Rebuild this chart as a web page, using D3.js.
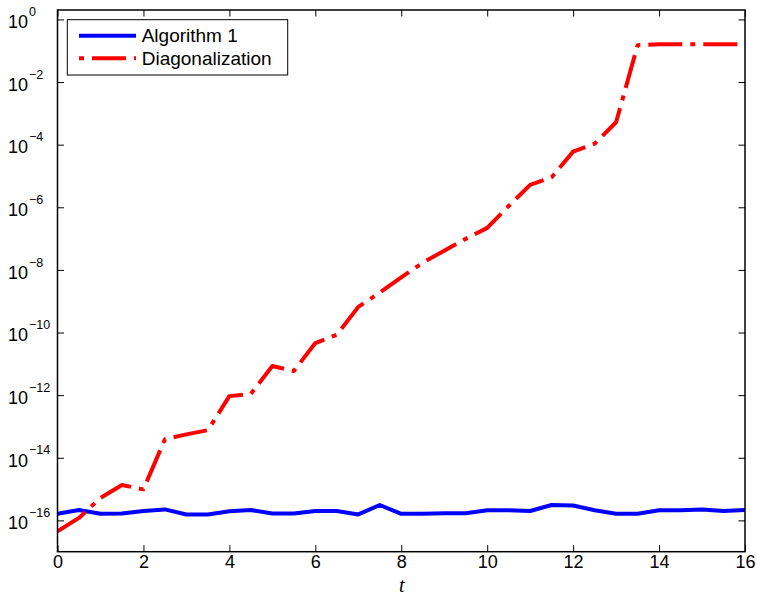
<!DOCTYPE html>
<html>
<head>
<meta charset="utf-8">
<script src="https://cdn.jsdelivr.net/npm/d3@7"></script>
<style>
  body { margin: 0; background: #fff; }
  svg { display: block; }
</style>
</head>
<body>
<svg id="chart" width="757" height="597"></svg>
<script>
// Sample times
const tValues = [0, 0.5, 1, 1.5, 2, 2.5, 3, 3.5, 4, 4.5, 5, 5.5, 6, 6.5, 7, 7.5,
                 8, 8.5, 9, 9.5, 10, 10.5, 11, 11.5, 12, 12.5, 13, 13.5, 14, 14.5, 15, 15.5, 16];

// Error of Algorithm 1 at each time
const algorithm1 = [1.62e-16, 2.14e-16, 1.62e-16, 1.66e-16, 2.0e-16, 2.24e-16, 1.55e-16, 1.55e-16,
                    1.95e-16, 2.14e-16, 1.66e-16, 1.66e-16, 2.0e-16, 2.0e-16, 1.55e-16, 3.1e-16,
                    1.62e-16, 1.62e-16, 1.7e-16, 1.7e-16, 2.1e-16, 2.1e-16, 2.0e-16, 3.1e-16,
                    3.0e-16, 2.1e-16, 1.62e-16, 1.62e-16, 2.1e-16, 2.1e-16, 2.24e-16, 2.0e-16, 2.14e-16];

// Error of the diagonalization approach at each time
const diagonalization = [4.5e-17, 1.2e-16, 5.2e-16, 1.35e-15, 9.8e-16, 3.9e-14, 5.6e-14, 7.6e-14,
                         9.3e-13, 1.1e-12, 8.5e-12, 5.9e-12, 4.6e-11, 8.5e-11, 6.6e-10, 1.9e-9,
                         5.8e-9, 1.7e-8, 4.1e-8, 9.8e-8, 2.2e-7, 1.1e-6, 5.2e-6, 9.1e-6,
                         6.0e-5, 1.07e-4, 5.2e-4, 0.15, 0.16, 0.16, 0.16, 0.16, 0.16];

const xTicks = [0, 2, 4, 6, 8, 10, 12, 14, 16];
const yTickExponents = [0, -2, -4, -6, -8, -10, -12, -14, -16];
const seriesNames = ["Algorithm 1", "Diagonalization"];
const xLabel = "t";

const svg = d3.select("#chart");
const plotLeft = 57.5, plotRight = 745, plotTop = 10, plotBottom = 551.7;

const x = d3.scaleLinear().domain([0, 16]).range([plotLeft, plotRight]);
const y = d3.scaleLog().domain([1e-17, 2]).range([plotBottom, plotTop]);

const tickFont = "'Liberation Sans', Arial, Helvetica, sans-serif";
const tickLen = 6.5;

// clip region for the data lines
svg.append("defs").append("clipPath").attr("id", "plot-clip")
  .append("rect").attr("x", plotLeft).attr("y", plotTop)
  .attr("width", plotRight - plotLeft).attr("height", plotBottom - plotTop);

// data lines
const line = d3.line()
  .x((d, i) => x(tValues[i]))
  .y(d => y(d));

const lines = svg.append("g").attr("clip-path", "url(#plot-clip)");
lines.append("path")
  .datum(algorithm1)
  .attr("d", line)
  .attr("fill", "none")
  .attr("stroke", "#0000ff")
  .attr("stroke-width", 4)
  .attr("stroke-linejoin", "round");

lines.append("path")
  .datum(diagonalization)
  .attr("d", line)
  .attr("fill", "none")
  .attr("stroke", "#ff0000")
  .attr("stroke-width", 4)
  .attr("stroke-dasharray", "34,8,5,8")
  .attr("stroke-linejoin", "round");

// axes with inward ticks on all four sides
function styleAxis(g) {
  g.select(".domain").remove();
  g.selectAll(".tick line").attr("stroke", "#000").attr("stroke-width", 1);
}

const yTickValues = yTickExponents.map(e => Math.pow(10, e));

svg.append("g")
  .attr("transform", `translate(0,${plotBottom})`)
  .call(d3.axisBottom(x).tickValues(xTicks).tickSizeInner(-tickLen).tickSizeOuter(0).tickPadding(3.5))
  .call(styleAxis)
  .call(g => g.selectAll(".tick text")
    .attr("fill", "#000").attr("font-family", tickFont).attr("font-size", 18));

svg.append("g")
  .attr("transform", `translate(0,${plotTop})`)
  .call(d3.axisTop(x).tickValues(xTicks).tickSizeInner(-tickLen).tickSizeOuter(0).tickFormat(""))
  .call(styleAxis);

const yLeft = svg.append("g")
  .attr("transform", `translate(${plotLeft},0)`)
  .call(d3.axisLeft(y).tickValues(yTickValues).tickSizeInner(-tickLen).tickSizeOuter(0).tickFormat(""))
  .call(styleAxis);

svg.append("g")
  .attr("transform", `translate(${plotRight},0)`)
  .call(d3.axisRight(y).tickValues(yTickValues).tickSizeInner(-tickLen).tickSizeOuter(0).tickFormat(""))
  .call(styleAxis);

// power-of-ten labels: base "10" plus raised exponent
yLeft.selectAll(".tick").each(function(d) {
  const g = d3.select(this);
  const e = Math.round(Math.log10(d));
  g.append("text")
    .attr("x", -29.5).attr("y", 8.3)
    .attr("text-anchor", "end")
    .attr("font-family", tickFont).attr("font-size", 18).attr("fill", "#000")
    .text("10");
  g.append("text")
    .attr("x", -28.5).attr("y", -3.8)
    .attr("text-anchor", "start")
    .attr("font-family", tickFont).attr("font-size", 12.5).attr("fill", "#000")
    .text(e < 0 ? "\u2212" + Math.abs(e) : String(e));
});

// frame
svg.append("rect")
  .attr("x", plotLeft).attr("y", plotTop)
  .attr("width", plotRight - plotLeft).attr("height", plotBottom - plotTop)
  .attr("fill", "none").attr("stroke", "#000").attr("stroke-width", 1.5);

// x label
svg.append("text")
  .attr("x", (plotLeft + plotRight) / 2 + 0.5).attr("y", 592)
  .attr("text-anchor", "middle")
  .attr("font-family", "'Liberation Serif', 'Times New Roman', serif")
  .attr("font-style", "italic").attr("font-size", 20)
  .text(xLabel);

// legend
const legend = svg.append("g");
legend.append("rect")
  .attr("x", 67.3).attr("y", 19.7).attr("width", 220.4).attr("height", 55.3)
  .attr("fill", "#fff").attr("stroke", "#000").attr("stroke-width", 1);

const legendRows = [
  { name: seriesNames[0], color: "#0000ff", dash: null, ly: 35.7, ty: 42 },
  { name: seriesNames[1], color: "#ff0000", dash: "34,8,5,8", ly: 58.3, ty: 65.3 }
];
legendRows.forEach(r => {
  const l = legend.append("line")
    .attr("x1", 79).attr("x2", 136).attr("y1", r.ly).attr("y2", r.ly)
    .attr("stroke", r.color).attr("stroke-width", 4);
  if (r.dash) l.attr("stroke-dasharray", r.dash).attr("stroke-dashoffset", 42);
  legend.append("text")
    .attr("x", 141.7).attr("y", r.ty)
    .attr("font-family", tickFont).attr("font-size", 19).attr("fill", "#000")
    .text(r.name);
});
</script>
</body>
</html>
